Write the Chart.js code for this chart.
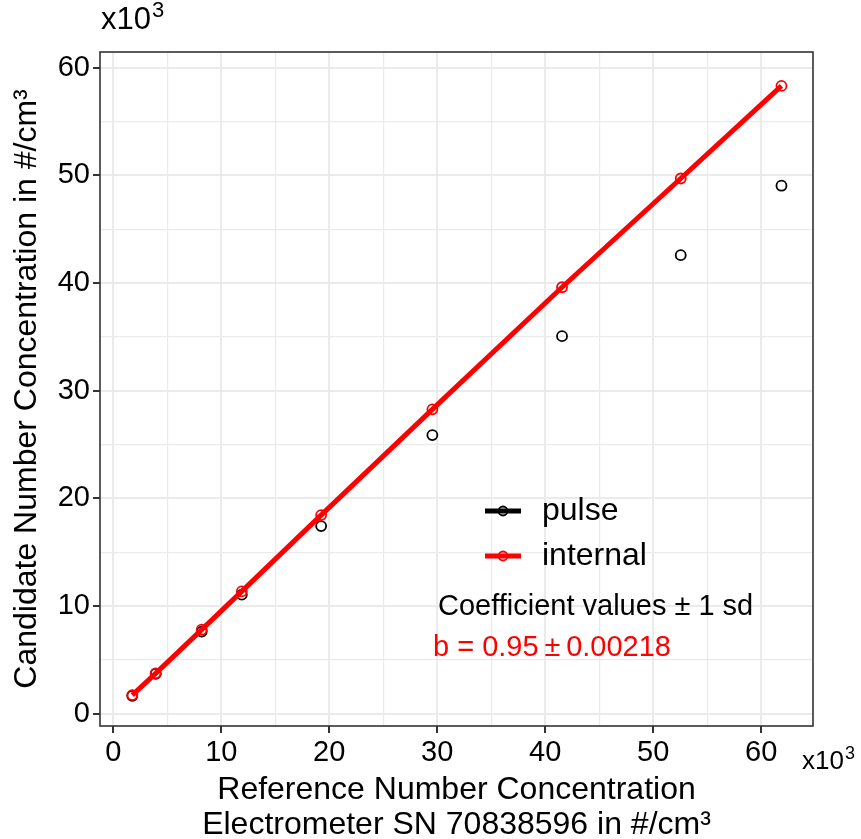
<!DOCTYPE html>
<html>
<head>
<meta charset="utf-8">
<script src="https://cdn.jsdelivr.net/npm/chart.js@4.4.1/dist/chart.umd.min.js"></script>
<style>
  html, body { margin: 0; padding: 0; background: #fff; }
  #wrap { width: 861px; height: 839px; }
</style>
</head>
<body>
<div id="wrap"><canvas id="chart" width="861" height="839"></canvas></div>
<script>
// values in thousands (#/cm3 x10^3)
const refConc = [1.76, 3.93, 8.19, 11.9, 19.25, 29.55, 41.56, 52.55, 61.88];
const pulseConc = [1.66, 3.7, 7.62, 11.05, 17.42, 25.87, 35.06, 42.58, 49.03];
const internalConc = [1.72, 3.74, 7.8, 11.35, 18.44, 28.26, 39.6, 49.7, 58.3];
const seriesNames = ['pulse', 'internal'];
const seriesColors = ['#000000', '#FF0000'];
const xTitle = ['Reference Number Concentration', 'Electrometer SN 70838596 in #/cm³'];
const yTitle = 'Candidate Number Concentration in #/cm³';
const coefLabel = 'Coefficient values ± 1 sd';
const coefValue = 'b = 0.95\u2009±\u20090.00218';

const FONT = '"Liberation Sans", Arial, sans-serif';

const toPoints = (ys) => refConc.map((x, i) => ({ x, y: ys[i] }));

// grid / tick styling shared by both axes
const isMajor = (v) => Math.abs(v % 10) < 1e-6;
const axisOpts = (min, max) => ({
  type: 'linear',
  min,
  max,
  border: { display: false },
  grid: {
    color: '#EBEBEB',
    lineWidth: (ctx) => (ctx.tick && isMajor(ctx.tick.value) ? 2 : 1.2),
    tickColor: (ctx) => (ctx.tick && isMajor(ctx.tick.value) ? '#333333' : 'rgba(0,0,0,0)'),
    tickWidth: 2,
    tickLength: 7,
    drawTicks: true
  },
  ticks: {
    stepSize: 5,
    includeBounds: false,
    autoSkip: false,
    maxRotation: 0,
    color: '#000',
    font: { family: FONT, size: 29 },
    callback: (v) => (isMajor(v) ? String(v) : '')
  }
});

// "x10" with a raised 3, like the plotmath exponent
const drawMultiplier = (ctx, x, baseline, size) => {
  ctx.textBaseline = 'alphabetic';
  ctx.textAlign = 'left';
  ctx.font = size + 'px ' + FONT;
  ctx.fillText('x10', x, baseline);
  const w = ctx.measureText('x10').width;
  ctx.font = Math.round(size * 0.7) + 'px ' + FONT;
  ctx.fillText('3', x + w + 1, baseline - size * 0.4);
};

// panel border, axis titles, legend and annotation
const decorPlugin = {
  id: 'decor',
  afterDraw(chart) {
    const { ctx, chartArea: a } = chart;
    ctx.save();

    ctx.strokeStyle = '#333333';
    ctx.lineWidth = 1.6;
    ctx.strokeRect(a.left, a.top, a.right - a.left, a.bottom - a.top);

    ctx.fillStyle = '#000';
    drawMultiplier(ctx, 101, 29, 31);
    drawMultiplier(ctx, 802, 769, 26);

    // axis titles
    ctx.textBaseline = 'middle';
    ctx.font = '32px ' + FONT;
    ctx.textAlign = 'center';
    const cx = (a.left + a.right) / 2;
    ctx.fillText(xTitle[0], cx, 790);
    ctx.fillText(xTitle[1], cx, 825);

    ctx.save();
    ctx.translate(27, (a.top + a.bottom) / 2);
    ctx.rotate(-Math.PI / 2);
    ctx.fillText(yTitle, 0, 0);
    ctx.restore();

    // legend
    const legendY = [511, 556];
    seriesNames.forEach((name, i) => {
      const y = legendY[i];
      ctx.strokeStyle = seriesColors[i];
      ctx.lineWidth = 5;
      ctx.beginPath();
      ctx.moveTo(485, y);
      ctx.lineTo(521, y);
      ctx.stroke();
      ctx.lineWidth = 1.8;
      ctx.beginPath();
      ctx.arc(503, y, 4.5, 0, Math.PI * 2);
      ctx.stroke();
      ctx.fillStyle = '#000';
      ctx.font = '32px ' + FONT;
      ctx.textAlign = 'left';
      ctx.fillText(name, 542, y);
    });

    // coefficient annotation
    ctx.font = '29px ' + FONT;
    ctx.fillStyle = '#000';
    ctx.fillText(coefLabel, 438, 607);
    ctx.fillStyle = '#FF0000';
    ctx.fillText(coefValue, 433, 648);

    ctx.restore();
  }
};

const xScale = axisOpts(-1.23, 64.8);
xScale.afterFit = (s) => { s.height = 113; };
const yScale = axisOpts(-1.15, 61.45);
yScale.afterFit = (s) => { s.width = 100; };

new Chart(document.getElementById('chart').getContext('2d'), {
  type: 'scatter',
  data: {
    datasets: [
      {
        label: seriesNames[0],
        data: toPoints(pulseConc),
        showLine: false,
        borderColor: seriesColors[0],
        backgroundColor: 'rgba(0,0,0,0)',
        pointBorderColor: seriesColors[0],
        pointBackgroundColor: 'rgba(0,0,0,0)',
        pointRadius: 5,
        pointBorderWidth: 1.8,
        order: 1
      },
      {
        label: seriesNames[1],
        data: toPoints(internalConc),
        showLine: true,
        borderColor: seriesColors[1],
        borderWidth: 5,
        backgroundColor: 'rgba(0,0,0,0)',
        pointBorderColor: seriesColors[1],
        pointBackgroundColor: 'rgba(0,0,0,0)',
        pointRadius: 5,
        pointBorderWidth: 1.8,
        order: 0
      }
    ]
  },
  options: {
    responsive: false,
    animation: false,
    layout: { padding: { left: 0, top: 52, right: 48, bottom: 0 } },
    plugins: {
      legend: { display: false },
      tooltip: { enabled: false }
    },
    scales: { x: xScale, y: yScale }
  },
  plugins: [decorPlugin]
});
</script>
</body>
</html>
